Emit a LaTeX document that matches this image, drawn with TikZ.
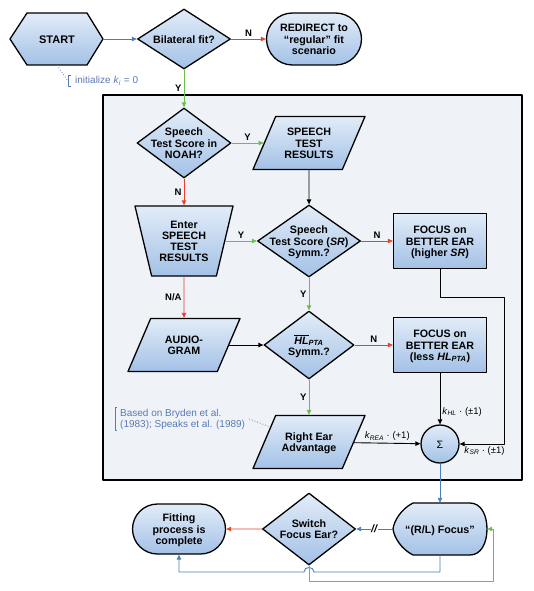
\documentclass[tikz,border=0pt]{standalone}
\usepackage{fontspec}
\setmainfont{Liberation Sans}
\usetikzlibrary{shapes.geometric,shapes.misc,arrows.meta}
\definecolor{bluel}{HTML}{4A7EBB}
\definecolor{greenl}{HTML}{6ABF4B}
\definecolor{redl}{HTML}{E8412C}
\definecolor{filltop}{HTML}{E2ECF8}
\definecolor{fillbot}{HTML}{A3C1E6}
\definecolor{panel}{HTML}{EFF3F8}
\definecolor{notec}{HTML}{5B79B1}
% text that does not change the size of its shape
\newcommand{\ztext}[1]{\rule{0pt}{1pt}\makebox[1pt]{\smash{\makebox[0pt]{\raisebox{-4pt}{\begin{tabular}{@{}c@{}}#1\end{tabular}}}}}}
\begin{document}
\begin{tikzpicture}[x=1pt,y=-1pt,>={Triangle[length=5pt,width=4.5pt]},line join=round,
	font=\fontsize{10.7}{11.2}\selectfont\bfseries,
	shp/.style={draw,line width=1.3pt,top color=filltop,bottom color=fillbot,inner sep=0pt},
	dec/.style={shp,diamond},
	para/.style={shp,trapezium,trapezium left angle=71.2,trapezium right angle=108.8,trapezium stretches=true,minimum width=112,minimum height=53},
	term/.style={shp,rounded rectangle,minimum width=93,minimum height=51},
	box/.style={shp,rectangle,minimum width=93,minimum height=55},
	hold/.style={inner sep=0pt},
	lab/.style={font=\fontsize{9.5}{10}\selectfont\bfseries,text=black,inner sep=2pt},
	klab/.style={font=\fontsize{9.5}{10}\selectfont,text=black,inner sep=2pt},
	note/.style={text=notec,font=\fontsize{10}{11}\selectfont,align=left,inner sep=1pt},
	conn/.style={line width=0.9pt,->}]
	\useasboundingbox (0,0) rectangle (533,591);
	% frame of the per-ear part
	\draw[line width=1.8pt,fill=panel] (103,95) rectangle (522,480);
	% shapes
	\draw[shp] (10,39)--(27,13)--(87,13)--(103,39)--(87,65)--(27,65)--cycle;
	\node[hold,minimum width=93,minimum height=52] (start) at (57,39) {\ztext{\fontsize{11}{12}\selectfont START}};
	\node[dec,minimum width=93,minimum height=60] (bil) at (184,39) {\ztext{Bilateral fit?}};
	\node[term,minimum width=95,minimum height=52] (redir) at (314,39) {\ztext{REDIRECT to\\``regular'' fit\\scenario}};
	\node[dec,minimum width=94,minimum height=70] (noah) at (184,143) {\ztext{Speech\\Test Score in\\NOAH?}};
	\node[para] (str) at (309,143) {\ztext{SPEECH\\TEST\\RESULTS}};
	\node[shp,trapezium,shape border rotate=180,trapezium left angle=75.6,trapezium right angle=75.6,trapezium stretches=true,minimum width=98,minimum height=70] (enter) at (184,241) {\ztext{Enter\\SPEECH\\TEST\\RESULTS}};
	\node[dec,minimum width=103,minimum height=72] (sr) at (309,241) {\ztext{Speech\\Test Score (\textit{SR})\\Symm.?}};
	\node[box] (foc1) at (440,241) {\ztext{FOCUS on\\BETTER EAR\\(higher \textit{SR})}};
	\node[para] (aud) at (184,345) {\ztext{AUDIO-\\GRAM}};
	\node[dec,minimum width=90,minimum height=68] (hl) at (309,345) {\ztext{$\overline{\mbox{\textit{HL}}}$\textsubscript{\textit{PTA}}\\Symm.?}};
	\node[box] (foc2) at (440,345) {\ztext{FOCUS on\\BETTER EAR\\(less \textit{HL}\textsubscript{\textit{PTA}})}};
	\node[para] (rea) at (309,442) {\ztext{Right Ear\\Advantage}};
	\node[shp,circle,minimum size=38] (sum) at (440,444) {\ztext{\mdseries Σ}};
	\draw[shp] (413,503)--(470,503) .. controls (481,503) and (487,515) .. (487,529) .. controls (487,543) and (481,555) .. (470,555)--(413,555) .. controls (401,549) and (394,537) .. (393,529) .. controls (394,521) and (401,509) .. (413,503)--cycle;
	\node[hold,minimum width=94,minimum height=52] (rl) at (440,529) {\ztext{``(R/L) Focus''}};
	\node[dec,minimum width=93,minimum height=72] (sw) at (309,529) {\ztext{Switch\\Focus Ear?}};
	\node[term,minimum width=93,minimum height=50] (fit) at (179,529) {\ztext{Fitting\\process is\\complete}};
	% notes
	\node[note,anchor=west] (init) at (74,81) {initialize \textit{k}\textsubscript{\textit{i}} = 0};
	\node[note,anchor=west] (based) at (119,419) {Based on Bryden et al.\\(1983); Speaks et al. (1989)};
	\draw[notec,line width=0.8pt] ([xshift=-3pt]init.north west)--([xshift=-6pt]init.north west)--([xshift=-6pt]init.south west)--([xshift=-3pt]init.south west);
	\draw[notec,line width=0.8pt] ([xshift=-2pt]based.north west)--([xshift=-4pt]based.north west)--([xshift=-4pt]based.south west)--([xshift=-2pt]based.south west);
	\draw[notec,dotted,line width=0.8pt] (start.south)--([xshift=-6pt]init.west);
	\draw[notec,dotted,line width=0.8pt] ([xshift=3pt]based.east)--(rea);
	% connectors
	\draw[conn,bluel] (start)--(bil);
	\draw[conn,redl] (bil)--node[lab,above]{N} (redir);
	\draw[conn,greenl] (bil)--node[lab,left]{Y} (noah);
	\draw[conn,greenl] (noah)--node[lab,above]{Y} (str);
	\draw[conn,redl] (noah)--node[lab,left]{N} (enter);
	\draw[conn] (str)--(sr);
	\draw[conn,greenl] (enter)--node[lab,above]{Y} (sr);
	\draw[conn,redl] (sr)--node[lab,above]{N} (foc1);
	\draw[conn,redl] (enter)--node[lab,left]{N/A} (aud);
	\draw[conn,greenl] (sr)--node[lab,left]{Y} (hl);
	\draw[conn] (aud)--(hl);
	\draw[conn,redl] (hl)--node[lab,above]{N} (foc2);
	\draw[conn,greenl] (hl)--node[lab,left]{Y} (rea);
	\draw[conn] (rea)--node[klab,above]{\textit{k}\textsubscript{\textit{REA}} · (+1)} (sum);
	\draw[conn] (foc2)--node[klab,right,pos=0.75]{\textit{k}\textsubscript{\textit{HL}} · (±1)} (sum);
	\draw[conn] (foc1) |- (504,297) |- node[klab,below,pos=0.72]{\textit{k}\textsubscript{\textit{SR}} · (±1)} (sum);
	\draw[conn,bluel] (sum)--(rl);
	\draw[conn,bluel] (rl)--node[fill=white,inner sep=0.5pt,text=black]{\textit{//}} (sw);
	\draw[conn,redl] (sw)--(fit);
	\draw[conn,bluel] (rl) |- (314,572) .. controls (314,566) and (304,566) .. (304,572) -| (fit);
	\draw[conn,greenl] (sw) |- (493,581) |- (rl);
\end{tikzpicture}
\end{document}
